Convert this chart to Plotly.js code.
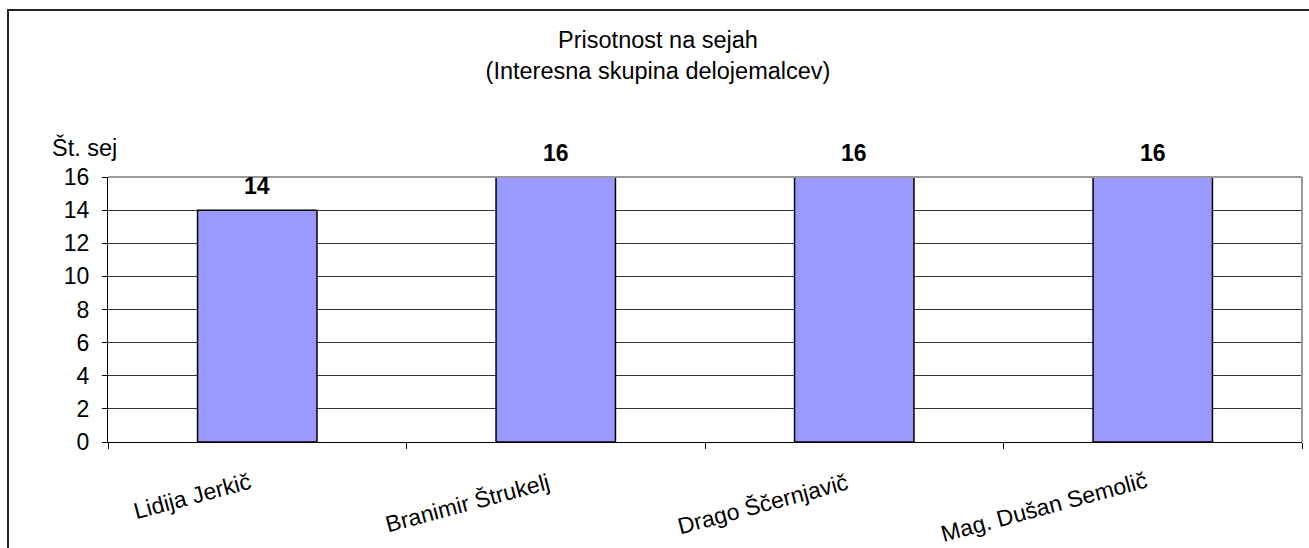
<!DOCTYPE html>
<html><head><meta charset="utf-8">
<script src="https://cdn.plot.ly/plotly-3.0.1.min.js"></script>
<style>
html,body{margin:0;padding:0;background:#fff;}
#frame{position:absolute;left:7px;top:9px;width:1400px;height:600px;border:2px solid #222;box-sizing:border-box;}
#chart{position:absolute;left:0;top:0;width:1309px;height:548px;}
</style></head>
<body>
<div id="frame"></div>
<div id="chart"></div>
<script>
const categories = ["Lidija Jerkič", "Branimir Štrukelj", "Drago Ščernjavič", "Mag. Dušan Semolič"];
const values = [14, 16, 16, 16];
const yTicks = [0, 2, 4, 6, 8, 10, 12, 14, 16];

const FAM = "Liberation Sans, Arial, sans-serif";
const FS = 23;
const font = {family: FAM, size: FS, color: "#000"};

const trace = {
  type: "bar",
  x: categories,
  y: values,
  marker: {color: "#9999FF", line: {color: "#000", width: 1.5}},
  width: 0.4,
  hoverinfo: "none"
};

const annotations = categories.map((c, i) => ({
  x: c, y: values[i], xref: "x", yref: "y",
  text: "<b>" + values[i] + "</b>", showarrow: false,
  yanchor: "middle", yshift: 24,
  font: {family: FAM, size: FS, color: "#000"}
}));
// category labels (rotated)
categories.forEach((c) => {
  annotations.push({
    x: c, y: 0, xref: "x", yref: "y",
    text: c, showarrow: false, textangle: -15,
    xanchor: "right", yanchor: "top", xshift: -1, yshift: -23,
    font: {family: FAM, size: FS, color: "#000"}
  });
});
annotations.push({
  xref: "paper", yref: "paper", x: -0.0193, y: 1, xanchor: "center", yanchor: "middle", yshift: 30,
  text: "Št. sej", showarrow: false, font: {family: FAM, size: 23.5, color: "#000"}
});

const layout = {
  width: 1309, height: 548,
  margin: {l: 108, r: 7, t: 177, b: 106},
  paper_bgcolor: "rgba(0,0,0,0)",
  plot_bgcolor: "#fff",
  showlegend: false,
  font: font,
  title: {
    text: "Prisotnost na sejah<br>(Interesna skupina delojemalcev)",
    x: 658 / 1309, xref: "container", xanchor: "center",
    y: 1 - 48 / 548, yref: "container", yanchor: "middle",
    font: {family: FAM, size: 23.5, color: "#000"}
  },
  xaxis: {
    type: "category",
    ticks: "outside", tickson: "boundaries", ticklen: 6, tickcolor: "#000", tickwidth: 1,
    showline: true, linecolor: "#000", linewidth: 1,
    showgrid: false, zeroline: false,
    showticklabels: false
  },
  yaxis: {
    range: [0, 16],
    tickvals: yTicks,
    ticktext: yTicks.map(String),
    ticks: "outside", ticklen: 5, tickcolor: "#000", tickwidth: 1,
    showline: true, linecolor: "#000", linewidth: 1,
    showgrid: true, gridcolor: "#333", gridwidth: 1,
    zeroline: false,
    tickfont: font,
    ticklabelstandoff: 8
  },
  shapes: [
    {type: "line", xref: "paper", yref: "paper", x0: 0, x1: 1, y0: 1, y1: 1, line: {color: "#999", width: 2}},
    {type: "line", xref: "paper", yref: "paper", x0: 1, x1: 1, y0: 0, y1: 1, line: {color: "#999", width: 2}}
  ],
  annotations: annotations
};

Plotly.newPlot("chart", [trace], layout, {displayModeBar: false, staticPlot: true});
</script>
</body></html>
